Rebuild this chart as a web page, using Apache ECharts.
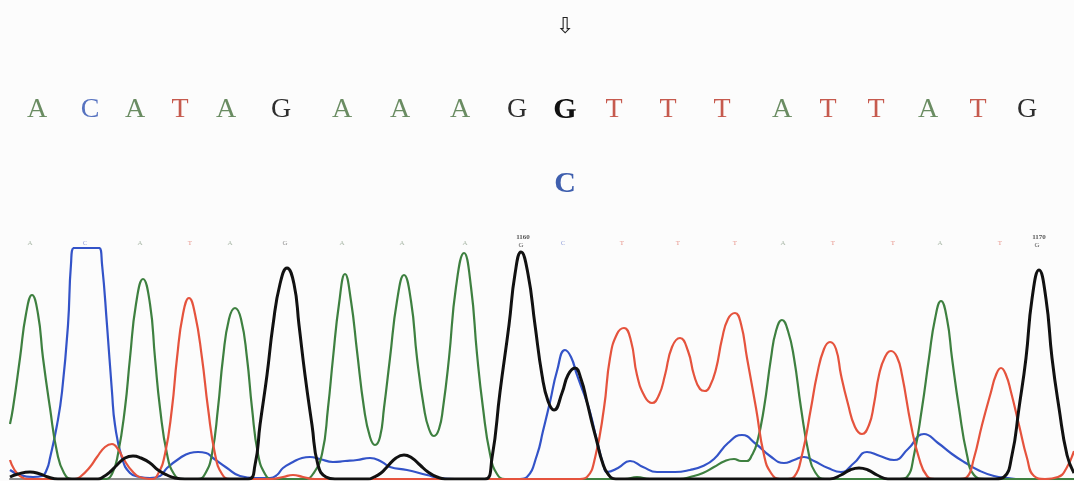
<!DOCTYPE html>
<html><head><meta charset="utf-8">
<script src="https://cdn.jsdelivr.net/npm/echarts@6/dist/echarts.min.js"></script>
<style>html,body{margin:0;padding:0;background:#fcfcfc;}#c{width:1074px;height:481px;}</style>
</head><body><div id="c"></div>
<script>
// ---- data (scan position, signal intensity) ----
const traceA = [[10,55],[13,71],[20,121],[26,165],[32,184],[38,165],[43,121],[50,71],[57,27],[64,6],[72,0],
  [105,0],[112,5],[118,25],[125,71],[130,121],[136,175],[143,200],[150,175],[155,121],[160,71],[167,25],[174,5],[182,0],
  [198,0],[205,5],[212,25],[218,71],[223,121],[229,160],[235,171],[241,160],[247,121],[252,71],[258,25],[265,5],[272,0],
  [305,0],[313,5],[322,25],[328,71],[333,121],[339,175],[345,205],[351,178],[357,128],[364,71],[370,42],[375,34],[380,42],[384,71],[390,121],[397,178],[404,204],[411,178],[417,121],[424,71],[429,50],[434,43],[439,50],[443,71],[449,121],[456,192],[464,226],[471,192],[477,125],[483,71],[490,25],[497,5],[505,0],
  [625,0],[637,2],[650,0],[680,0],[690,2],[703,6],[714,12],[725,18],[734,20],[741,18],[747,18],[752,24],[757,36],[764,71],[771,121],[776,148],[782,159],[788,148],[794,121],[801,71],[809,24],[815,7],[825,0],
  [900,0],[907,2],[914,24],[922,71],[929,121],[935,160],[941,178],[947,160],[952,121],[959,71],[967,24],[974,4],[985,0],[1074,0]];
const traceC = [[10,9],[20,4],[33,2],[42,3],[47,10],[50,21],[57,54],[62,87],[68,154],[71,215],[74,231],[99,231],[102,215],[107,154],[112,87],[115,54],[122,21],[130,6],[140,2],[150,1],
  [160,3],[167,11],[180,21],[190,26],[198,27],[206,26],[213,21],[227,11],[240,3],[255,1],
  [270,1],[277,4],[283,11],[293,17],[302,21],[310,22],[320,20],[333,17],[345,18],[357,19],[370,21],[382,17],[390,12],[407,9],[427,4],[440,1],[455,0],
  [520,0],[527,2],[537,24],[543,48],[550,77],[557,108],[565,129],[571,122],[577,104],[584,85],[590,67],[597,38],[604,12],[607,7],
  [618,11],[630,18],[643,12],[657,7],[675,7],[690,9],[703,13],[714,20],[728,36],[742,44],[756,35],[770,23],[784,16],[794,19],[804,22],[814,18],[828,11],[841,7],[854,16],[867,27],[880,23],[894,19],[908,30],[924,45],[938,36],[952,25],[964,17],[980,8],[994,3],[1008,1],[1020,0],[1074,0]];
const traceG = [[10,2],[18,5],[30,7],[40,5],[48,2],[58,0],
  [98,0],[103,2],[110,7],[117,14],[125,21],[133,23],[141,21],[150,16],[158,9],[167,4],[175,1],[185,0],
  [248,0],[255,14],[260,54],[267,104],[273,154],[280,195],[287,211],[294,195],[299,154],[305,104],[312,54],[318,14],[326,2],[335,0],
  [368,0],[374,2],[381,6],[387,12],[396,21],[404,24],[412,21],[420,14],[428,7],[437,2],[445,0],
  [485,0],[492,21],[500,87],[509,154],[515,205],[521,227],[528,205],[535,154],[542,104],[548,78],[554,69],[562,86],[568,104],[575,111],[581,100],[587,77],[592,56],[597,37],[602,18],[608,5],[616,0],
  [830,0],[841,4],[850,9],[859,11],[868,9],[877,4],[888,0],
  [995,0],[1004,2],[1012,24],[1019,71],[1026,121],[1032,180],[1039,209],[1046,180],[1052,121],[1059,71],[1067,24],[1074,6]];
const traceT = [[10,19],[14,10],[20,3],[28,0],[75,0],[80,2],[90,12],[97,22],[105,32],[112,35],[118,30],[123,21],[133,7],[143,1],
  [152,0],[158,5],[165,25],[172,71],[177,121],[183,165],[189,181],[195,165],[202,121],[208,71],[215,25],[222,5],[230,0],
  [270,0],[283,2],[293,4],[303,2],[315,0],
  [580,0],[587,2],[595,21],[604,71],[610,121],[617,145],[624,151],[631,138],[637,104],[645,82],[652,76],[659,84],[665,104],[672,132],[680,141],[688,128],[694,104],[700,90],[705,88],[710,93],[716,110],[722,140],[728,160],[735,166],[741,155],[747,121],[756,71],[764,24],[771,6],[780,0],
  [788,0],[794,2],[802,24],[811,71],[817,104],[824,130],[830,137],[836,130],[841,104],[848,75],[855,52],[862,45],[869,54],[874,75],[879,104],[885,122],[891,128],[897,122],[902,104],[911,54],[919,21],[927,3],[935,0],
  [960,0],[967,2],[974,21],[982,54],[991,87],[996,104],[1001,111],[1006,104],[1011,87],[1019,54],[1027,21],[1034,3],[1045,0],[1058,2],[1066,10],[1074,28]];

// sequence shown above the trace (base letters and the scan each is drawn over)
const seqBases = ['A','C','A','T','A','G','A','A','A','G','G','T','T','T','A','T','T','A','T','G'];
const seqScan  = [37,90,135,180,226,281,342,400,460,517,565,614,668,722,782,828,876,928,978,1027];
const altBase = 'C';
const altIndex = 10;
// base calls printed by the sequencer over the trace
const callBases = ['A','C','A','T','A','G','A','A','A','G','C','T','T','T','A','T','T','A','T','G'];
const callScan  = [30,85,140,190,230,285,342,402,465,521,563,622,678,735,783,833,893,940,1000,1037];
const callNumbers = {9:'1160', 19:'1170'};

const traceColor = {A:'#3e8040', C:'#3353c8', G:'#111111', T:'#e5533d'};
const seqColor = {A:'#6a8c62', C:'#5773c0', G:'#2e2e2e', T:'#c65a4e'};
const callColor = {A:'#aab8a8', C:'#9aa6dc', G:'#8f8f8f', T:'#e8968c'};

const chart = echarts.init(document.getElementById('c'), null, {renderer:'canvas'});
function line(name, data, w){
  return {name, type:'line', data, smooth:0.5, showSymbol:false, clip:true, animation:false,
    lineStyle:{color:traceColor[name], width:w}, itemStyle:{color:traceColor[name]}, z: name==='G'?3:2};
}
chart.setOption({
  backgroundColor:'#fcfcfc',
  animation:false,
  grid:{left:10, right:0, top:248, bottom:2},
  xAxis:{type:'value', min:10, max:1074, axisLine:{show:true, onZero:false, lineStyle:{color:'#8c8c8c', width:2}}, axisTick:{show:false}, axisLabel:{show:false}, splitLine:{show:false}},
  yAxis:{type:'value', min:0, max:231, show:false, splitLine:{show:false}},
  series:[line('C', traceC, 2.2), line('A', traceA, 2.2), line('T', traceT, 2.2), line('G', traceG, 3)]
});

const px = v => chart.convertToPixel({xAxisIndex:0}, v);
const g = [];
const serif = '"Liberation Serif", "DejaVu Serif", serif';
seqBases.forEach((b,i)=>{
  const bold = i===altIndex;
  g.push({type:'text', x:px(seqScan[i]), y:110, style:{text:b, fill: bold?'#111':seqColor[b],
    font:(bold?'bold 30px ':'28px ')+serif, align:'center', verticalAlign:'middle'}});
});
g.push({type:'text', x:px(seqScan[altIndex]), y:184, style:{text:altBase, fill:'#3f5fae', font:'bold 30px '+serif, align:'center', verticalAlign:'middle'}});
g.push({type:'text', x:px(seqScan[altIndex]), y:27, style:{text:'\u21E9', fill:'#222', font:'22px "DejaVu Sans", sans-serif', align:'center', verticalAlign:'middle'}});
callBases.forEach((b,i)=>{
  const num = callNumbers[i];
  g.push({type:'text', x:px(callScan[i]), y: num?245:243, style:{text:b, fill: num?'#555':callColor[b], font:'7px '+serif, align:'center', verticalAlign:'middle'}});
  if(num) g.push({type:'text', x:px(callScan[i])+2, y:237, style:{text:num, fill:'#555', font:'bold 7px '+serif, align:'center', verticalAlign:'middle'}});
});
chart.setOption({graphic:g});
</script></body></html>
